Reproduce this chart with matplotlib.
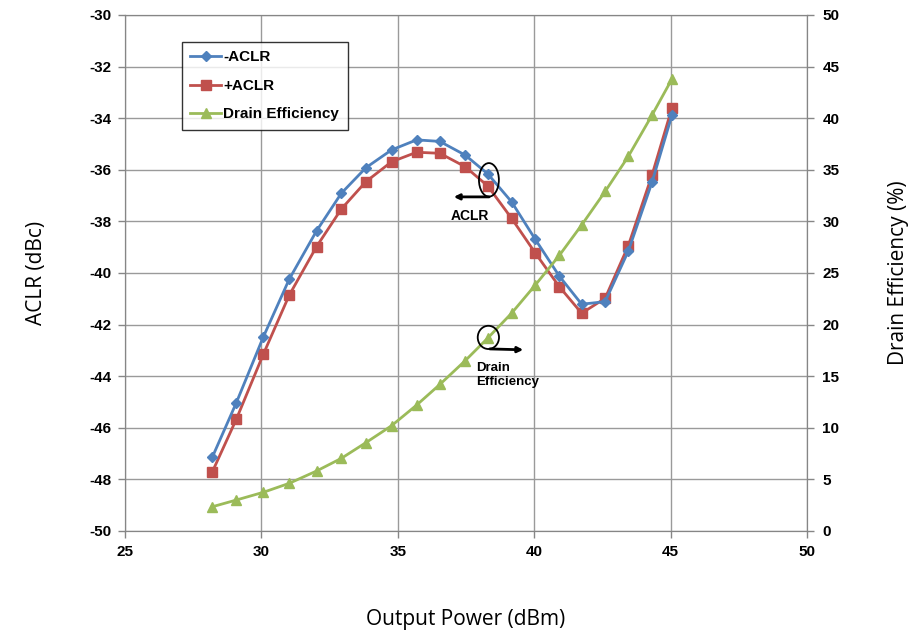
import matplotlib
matplotlib.use("Agg")
import matplotlib.pyplot as plt
from matplotlib.patches import Ellipse
import numpy as np

plt.rcParams["axes.unicode_minus"] = False

# output power (dBm)
pout = [28.2, 29.08, 30.07, 31.02, 32.02, 32.93, 33.83, 34.77, 35.69, 36.54,
        37.47, 38.3, 39.17, 40.03, 40.92, 41.74, 42.6, 43.45, 44.32, 45.05]
aclr_minus = [-47.14, -45.03, -42.48, -40.24, -38.37, -36.91, -35.92, -35.23, -34.84, -34.9,
              -35.43, -36.16, -37.24, -38.68, -40.12, -41.21, -41.11, -39.15, -36.48, -33.88]
aclr_plus = [-47.71, -45.67, -43.15, -40.86, -38.98, -37.52, -36.46, -35.69, -35.32, -35.36,
             -35.88, -36.63, -37.88, -39.21, -40.53, -41.56, -40.98, -38.94, -36.2, -33.6]
drain_eff = [2.35, 3.0, 3.75, 4.62, 5.81, 7.04, 8.56, 10.2, 12.2, 14.2,
             16.5, 18.7, 21.1, 23.8, 26.7, 29.65, 32.9, 36.3, 40.3, 43.8]

blue = "#4F81BD"
red = "#C0504D"
green = "#9BBB59"
grid_c = "#9A9A9A"

tick_font = dict(family="Liberation Sans", weight="bold", size=11)
label_font = dict(family="Open Sans", size=15)

fig = plt.figure(figsize=(9.12, 6.34), dpi=100)
ax = fig.add_axes([125 / 912, 1 - 531 / 634, 682 / 912, 516 / 634])
ax2 = ax.twinx()

l1, = ax.plot(pout, aclr_minus, color=blue, lw=2, marker="D", ms=5.5, label="-ACLR", zorder=4)
l2, = ax.plot(pout, aclr_plus, color=red, lw=2, marker="s", ms=7.5, label="+ACLR", zorder=3)
l3, = ax2.plot(pout, drain_eff, color=green, lw=2, marker="^", ms=7.5, label="Drain Efficiency")

ax.set_xlim(25, 50)
ax.set_ylim(-50, -30)
ax2.set_ylim(0, 50)
ax.set_xticks(np.arange(25, 51, 5))
ax.set_yticks(np.arange(-50, -29, 2))
ax2.set_yticks(np.arange(0, 51, 5))

ax.grid(True, color=grid_c, lw=1)
ax.set_axisbelow(True)
for a in (ax, ax2):
    for s in a.spines.values():
        s.set_color("#868686")
    a.tick_params(colors="#868686", length=5, width=1, labelcolor="black")
for lab in ax.get_xticklabels() + ax.get_yticklabels() + ax2.get_yticklabels():
    lab.set_fontproperties(matplotlib.font_manager.FontProperties(**tick_font))
ax.tick_params(axis="y", pad=5)
ax.tick_params(axis="x", pad=5)
ax2.tick_params(axis="y", pad=6)

ax.set_xlabel("Output Power (dBm)", labelpad=36, **label_font)
ax.set_ylabel("ACLR (dBc)", labelpad=30, **label_font)
ax2.set_ylabel("Drain Efficiency (%)", labelpad=35, **label_font)

# annotations
ax.add_patch(Ellipse((38.34, -36.39), 0.73, 1.3, fill=False, ec="black", lw=1.3, zorder=6))
ax.annotate("", xy=(36.95, -37.05), xytext=(38.45, -37.05),
            arrowprops=dict(arrowstyle="-|>", color="black", lw=2, mutation_scale=8), zorder=6)
ax.text(37.65, -37.5, "ACLR", ha="center", va="top", fontsize=10,
        family="Liberation Sans", weight="bold")
ax2.add_patch(Ellipse((38.32, 18.76), 0.78, 2.25, fill=False, ec="black", lw=1.3, zorder=6))
ax2.annotate("", xy=(39.7, 17.55), xytext=(38.27, 17.65),
             arrowprops=dict(arrowstyle="-|>", color="black", lw=2, mutation_scale=8), zorder=6)
ax2.text(37.87, 16.4, "Drain\nEfficiency", ha="left", va="top", fontsize=9.5,
         family="Liberation Sans", weight="bold", linespacing=1.3)

leg = ax.legend(handles=[l1, l2, l3], loc="upper left", bbox_to_anchor=(57 / 682, 1 - 27 / 516),
                prop=dict(family="Liberation Sans", weight="bold", size=11),
                frameon=True, fancybox=False, borderpad=0.55, labelspacing=0.95,
                handlelength=2.0, handletextpad=0.15, borderaxespad=0)
leg.get_frame().set_edgecolor("black")
leg.get_frame().set_linewidth(1)
leg.set_zorder(10)

fig.savefig("out.png", dpi=100)
